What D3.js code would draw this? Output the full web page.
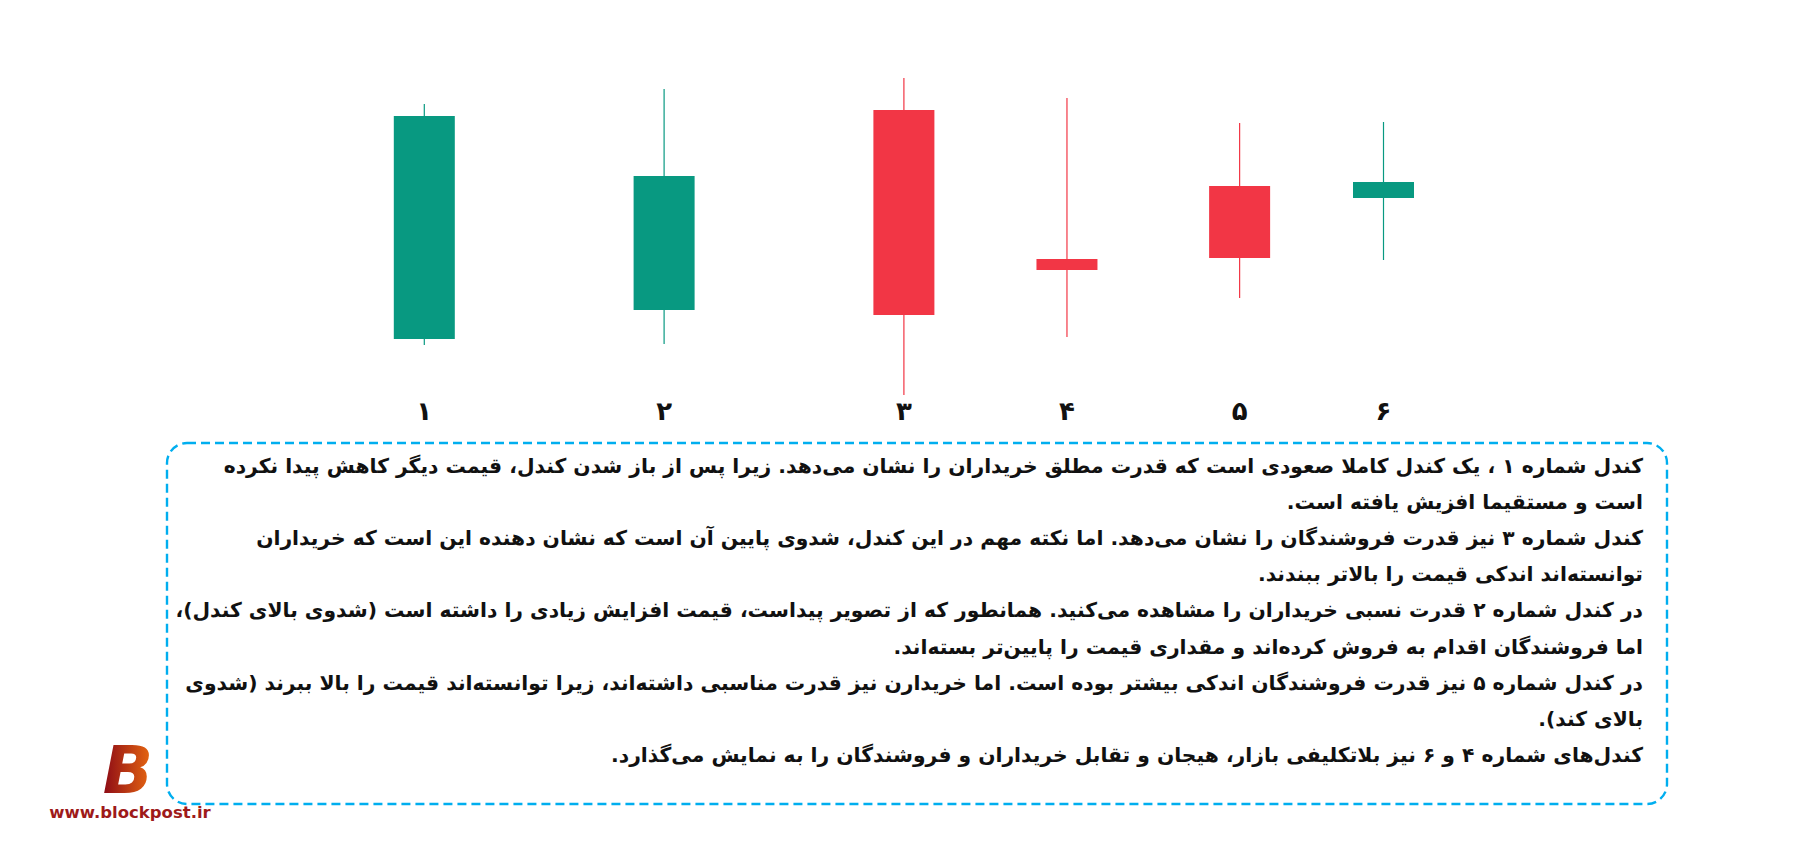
<!DOCTYPE html>
<html>
<head>
<meta charset="utf-8">
<script src="https://cdn.jsdelivr.net/npm/d3@7"></script>
<style>
  body { margin: 0; background: #fff; }
  svg { display: block; }
</style>
</head>
<body>
<div id="chart"></div>
<script>
// Candle labels (Persian digits) and their position on the time axis
const candleLabels = ['۱', '۲', '۳', '۴', '۵', '۶'];
const candleTime = [0, 25, 50, 67, 85, 100];

// OHLC values
const openValues = [56, 85, 285, 136, 209, 197];
const highValues = [291, 306, 317, 297, 272, 273];
const lowValues = [50, 51, 0, 58, 97, 135];
const closeValues = [279, 219, 80, 125, 137, 213];

// Explanation text, one entry per line
const noteLines = [
  'کندل شماره ۱ ، یک کندل کاملا صعودی است که قدرت مطلق خریداران را نشان می‌دهد. زیرا پس از باز شدن کندل، قیمت دیگر کاهش پیدا نکرده',
  'است و مستقیما افزیش یافته است.',
  'کندل شماره ۳ نیز قدرت فروشندگان را نشان می‌دهد. اما نکته مهم در این کندل، شدوی پایین آن است که نشان دهنده این است که خریداران',
  'توانسته‌اند اندکی قیمت را بالاتر ببندند.',
  'در کندل شماره ۲ قدرت نسبی خریداران را مشاهده می‌کنید. همانطور که از تصویر پیداست، قیمت افزایش زیادی را داشته است (شدوی بالای کندل)،',
  'اما فروشندگان اقدام به فروش کرده‌اند و مقداری قیمت را پایین‌تر بسته‌اند.',
  'در کندل شماره ۵ نیز قدرت فروشندگان اندکی بیشتر بوده است. اما خریدارن نیز قدرت مناسبی داشته‌اند، زیرا توانسته‌اند قیمت را بالا ببرند (شدوی',
  'بالای کند).',
  'کندل‌های شماره ۴ و ۶ نیز بلاتکلیفی بازار، هیجان و تقابل خریداران و فروشندگان را به نمایش می‌گذارد.'
];

const siteName = 'www.blockpost.ir';

class CandleChart {

  constructor(_config, _data) {
    this.config = {
      parentElement: _config.parentElement,
      containerWidth: 1820,
      containerHeight: 845,
      candleWidth: 61,
      upColor: '#089981',
      downColor: '#f23645'
    };
    this.data = _data;
    this.initVis();
  }

  initVis() {
    let vis = this;

    vis.svg = d3.select(vis.config.parentElement).append('svg')
      .attr('width', vis.config.containerWidth)
      .attr('height', vis.config.containerHeight);

    // x: candle time -> centre of candle
    vis.xScale = d3.scaleLinear()
      .domain([0, 100])
      .range([424.3, 1383.5]);

    // y: price
    vis.yScale = d3.scaleLinear()
      .domain([0, 320])
      .range([395, 75]);

    vis.candleG = vis.svg.append('g').attr('class', 'candles');
    vis.labelG = vis.svg.append('g').attr('class', 'labels');
    vis.noteG = vis.svg.append('g').attr('class', 'notes');
    vis.logoG = vis.svg.append('g').attr('class', 'logo');

    vis.renderVis();
  }

  renderVis() {
    let vis = this;
    const w = vis.config.candleWidth;
    const colour = d => d.close >= d.open ? vis.config.upColor : vis.config.downColor;

    const candle = vis.candleG.selectAll('.candle')
      .data(vis.data)
      .join('g')
      .attr('class', 'candle')
      .attr('transform', d => `translate(${vis.xScale(d.time)},0)`);

    // wicks
    candle.append('line')
      .attr('x1', 0).attr('x2', 0)
      .attr('y1', d => vis.yScale(d.high))
      .attr('y2', d => vis.yScale(d.low))
      .attr('stroke', colour)
      .attr('stroke-width', 1.2);

    // bodies
    candle.append('rect')
      .attr('x', -w / 2)
      .attr('width', w)
      .attr('y', d => vis.yScale(Math.max(d.open, d.close)))
      .attr('height', d => Math.abs(vis.yScale(d.open) - vis.yScale(d.close)))
      .attr('fill', colour);

    // candle numbers
    vis.labelG.selectAll('text')
      .data(vis.data)
      .join('text')
      .attr('x', d => vis.xScale(d.time))
      .attr('y', 420)
      .attr('text-anchor', 'middle')
      .attr('font-family', 'DejaVu Sans')
      .attr('font-weight', 'bold')
      .attr('font-size', 26)
      .attr('fill', '#111')
      .text(d => d.label);

    // dashed frame round the notes
    vis.noteG.append('rect')
      .attr('x', 167)
      .attr('y', 443)
      .attr('width', 1500)
      .attr('height', 361)
      .attr('rx', 20)
      .attr('fill', 'none')
      .attr('stroke', '#00aeef')
      .attr('stroke-width', 2.4)
      .attr('stroke-dasharray', '9 5');

    vis.noteG.selectAll('.note')
      .data(noteLines)
      .join('text')
      .attr('class', 'note')
      .attr('x', 1643)
      .attr('y', (d, i) => 473 + i * 36.1)
      .attr('direction', 'rtl')
      .attr('text-anchor', 'start')
      .attr('font-family', 'DejaVu Sans')
      .attr('font-weight', 'bold')
      .attr('font-size', 20.3)
      .attr('fill', '#111')
      .text(d => d);

    // site logo, bottom left
    const grad = vis.svg.append('defs').append('linearGradient')
      .attr('id', 'logo-grad')
      .attr('x1', '0%').attr('x2', '100%');
    grad.append('stop').attr('offset', '0%').attr('stop-color', '#8c0a16');
    grad.append('stop').attr('offset', '100%').attr('stop-color', '#ea6a10');

    vis.logoG.append('text')
      .attr('x', 128)
      .attr('y', 793)
      .attr('text-anchor', 'middle')
      .attr('font-family', 'DejaVu Sans')
      .attr('font-weight', 'bold')
      .attr('font-style', 'italic')
      .attr('font-size', 66)
      .attr('fill', 'url(#logo-grad)')
      .text('B');

    vis.logoG.append('text')
      .attr('x', 130)
      .attr('y', 818)
      .attr('text-anchor', 'middle')
      .attr('font-family', 'DejaVu Sans')
      .attr('font-weight', 'bold')
      .attr('font-size', 16.5)
      .attr('fill', '#9e1a1a')
      .text(siteName);
  }
}

const candles = candleLabels.map((label, i) => ({
  label: label,
  time: candleTime[i],
  open: openValues[i],
  high: highValues[i],
  low: lowValues[i],
  close: closeValues[i]
}));

new CandleChart({ parentElement: '#chart' }, candles);
</script>
</body>
</html>
